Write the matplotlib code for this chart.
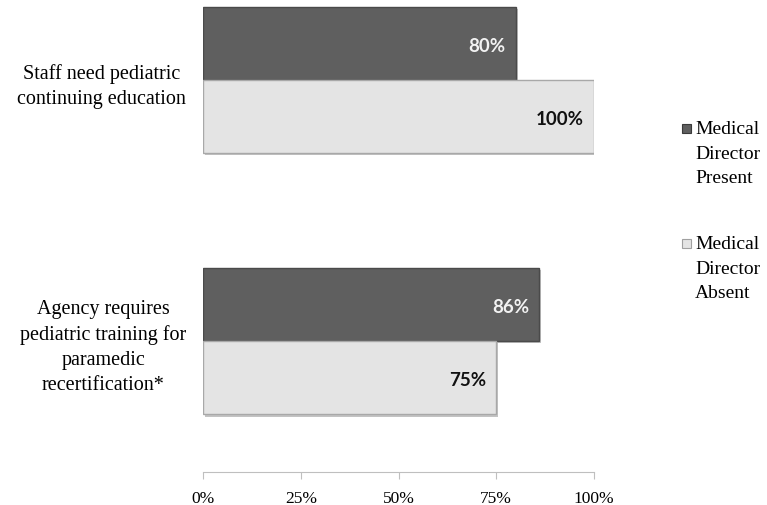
import matplotlib
matplotlib.use("Agg")
import matplotlib.pyplot as plt
import matplotlib.patheffects as pe
from matplotlib.patches import Rectangle
import numpy as np

# data
categories = ["Agency requires\npediatric training for\nparamedic\nrecertification*",
              "Staff need pediatric\ncontinuing education"]
present = [86, 80]
absent = [75, 100]
series_names = ["Medical\nDirector\nPresent", "Medical\nDirector\nAbsent"]
xticks = [0, 25, 50, 75, 100]

dark = "#5f5f5f"
light = "#e4e4e4"

fig = plt.figure(figsize=(7.67, 5.06), dpi=100)
ax = fig.add_axes([203 / 767, 33 / 506, 391 / 767, 473 / 506])

y = np.arange(len(categories))
h = 0.28
shadow = [pe.SimplePatchShadow(offset=(1.5, -1.5), shadow_rgbFace="#888888", alpha=0.5), pe.Normal()]

b1 = ax.barh(y + h / 2, present, height=h, color=dark, edgecolor="#4a4a4a", linewidth=1, zorder=3)
b2 = ax.barh(y - h / 2, absent, height=h, color=light, edgecolor="#a8a8a8", linewidth=1, zorder=3)
for bars in (b1, b2):
    for bar in bars:
        bar.set_path_effects(shadow)

# value labels inside bar ends
for bars, vals, col in ((b1, present, "#f2f2f2"), (b2, absent, "#111111")):
    for bar, v in zip(bars, vals):
        ax.annotate(f"{v}%", xy=(bar.get_width(), bar.get_y() + bar.get_height() / 2),
                    xytext=(-10, -2), textcoords="offset pixels", ha="right", va="center",
                    fontsize=13.5, fontweight="bold", family="Lato", color=col, zorder=5)

ax.set_xlim(0, 100)
ax.set_ylim(-0.5, 1.309)
ax.set_xticks(xticks)
ax.set_xticklabels([f"{t}%" for t in xticks], family="Liberation Serif", fontsize=12.5)
ax.set_yticks(y)
ax.set_yticklabels(categories, family="Liberation Serif", fontsize=14.5,
                   multialignment="center", linespacing=1.42)
ax.tick_params(axis="y", length=0, pad=12)
ax.tick_params(axis="x", direction="out", length=5, color="#bfbfbf", pad=8)
for s in ("top", "right", "left"):
    ax.spines[s].set_visible(False)
ax.spines["bottom"].set_color("#bfbfbf")

# legend drawn by hand so the marker sits on the first text line
leg_y = [129, 244]
for name, col, ec, yy in zip(series_names, (dark, light), ("#3a3a3a", "#a0a0a0"), leg_y):
    fy = 1 - yy / 506
    fig.patches.append(Rectangle((682 / 767, fy - 5 / 506), 9 / 767, 9 / 506,
                                 transform=fig.transFigure, facecolor=col, edgecolor=ec, linewidth=0.8))
    fig.text(695 / 767, fy - 25 / 506, name, family="Liberation Serif", fontsize=14,
             va="center", ha="left", linespacing=1.55)

fig.savefig("out.png", dpi=100)
